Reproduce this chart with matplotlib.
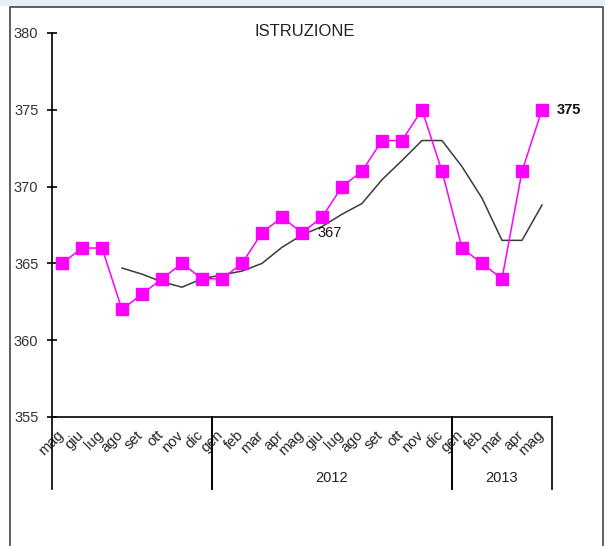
import numpy as np
import matplotlib
matplotlib.use("Agg")
import matplotlib.pyplot as plt
import matplotlib.transforms as mtransforms
from matplotlib.patches import Rectangle
from matplotlib.lines import Line2D

plt.rcParams['font.family'] = ['Liberation Sans', 'DejaVu Sans']

# Data
months = ['mag', 'giu', 'lug', 'ago', 'set', 'ott', 'nov', 'dic',
          'gen', 'feb', 'mar', 'apr', 'mag', 'giu', 'lug', 'ago', 'set', 'ott', 'nov', 'dic',
          'gen', 'feb', 'mar', 'apr', 'mag']
years = ['', '2012', '2013']
year_spans = [(0, 8), (8, 20), (20, 25)]

istruzione = [365, 366, 366, 362, 363, 364, 365, 364,
              364, 365, 367, 368, 367, 368, 370, 371, 373, 373, 375, 371,
              366, 365, 364, 371, 375]
# trend line starts at 'ago'
trend = [np.nan, np.nan, np.nan, 364.7, 364.3, 363.8, 363.45, 364.0,
         364.25, 364.5, 365.0, 366.05, 366.85, 367.4, 368.2, 368.9, 370.45, 371.7, 373.0, 373.0,
         371.3, 369.25, 366.5, 366.5, 368.8]

labels = {12: (367, 'normal'), 24: (375, 'bold')}

W, H = 605, 546
fig = plt.figure(figsize=(W / 100, H / 100), dpi=100)

# frame around the picture
fig.add_artist(Rectangle((0, 1 - 6 / H), 1, 6 / H, transform=fig.transFigure,
                         facecolor='#e9edf5', edgecolor='none'))
fig.add_artist(Line2D([9.5 / W, 9.5 / W, 602.5 / W, 602.5 / W], [0, 1 - 6.5 / H, 1 - 6.5 / H, 0],
                      transform=fig.transFigure, color='#444444', lw=1.2))

ax = fig.add_axes([52 / W, 1 - 417 / H, 500 / W, 384 / H])
x = np.arange(len(months))

ax.plot(x, trend, color='#3a3a3a', lw=1.1)
ax.plot(x, istruzione, color='#ff00ff', lw=1.1, marker='s', markersize=8,
        markeredgecolor='#ff00ff', markerfacecolor='#ff00ff')

for i, (v, w) in labels.items():
    ax.annotate(str(v), (x[i], istruzione[i]), xytext=(15, 0), textcoords='offset pixels',
                ha='left', va='center', fontsize=10.5, fontweight=w, color='#111111')

ax.set_xlim(-0.5, len(months) - 0.5)
ax.set_ylim(355, 380)
ax.set_yticks([355, 360, 365, 370, 375, 380])
ax.tick_params(axis='y', direction='inout', length=7.5, width=1.2, pad=6,
               labelsize=10.5, labelcolor='#333333')
ax.set_xticks(x)
ax.set_xticklabels(months, rotation=45, ha='right', fontsize=10.5, color='#222222')
ax.tick_params(axis='x', length=0, pad=8)
shift = mtransforms.ScaledTranslation(4 / 100, 0, fig.dpi_scale_trans)
for lab in ax.get_xticklabels():
    lab.set_transform(lab.get_transform() + shift)

for s in ['top', 'right']:
    ax.spines[s].set_visible(False)
ax.spines['left'].set_linewidth(1.2)
ax.spines['bottom'].set_linewidth(1.2)

# year separators and labels below the axis
trans = ax.get_xaxis_transform()
for (a, b), yr in zip(year_spans, years):
    for edge in (a - 0.5, b - 0.5):
        ax.plot([edge, edge], [0, -0.1875], transform=trans, color='black', lw=1.2, clip_on=False)
    if yr:
        ax.text((a + b - 1) / 2, -0.159, yr, transform=trans, ha='center', va='center',
                fontsize=10.5, color='#222222')

fig.text(305 / W, 1 - 31 / H, 'ISTRUZIONE', ha='center', va='center', fontsize=12, color='#222222')

fig.savefig('out.png', dpi=100)
